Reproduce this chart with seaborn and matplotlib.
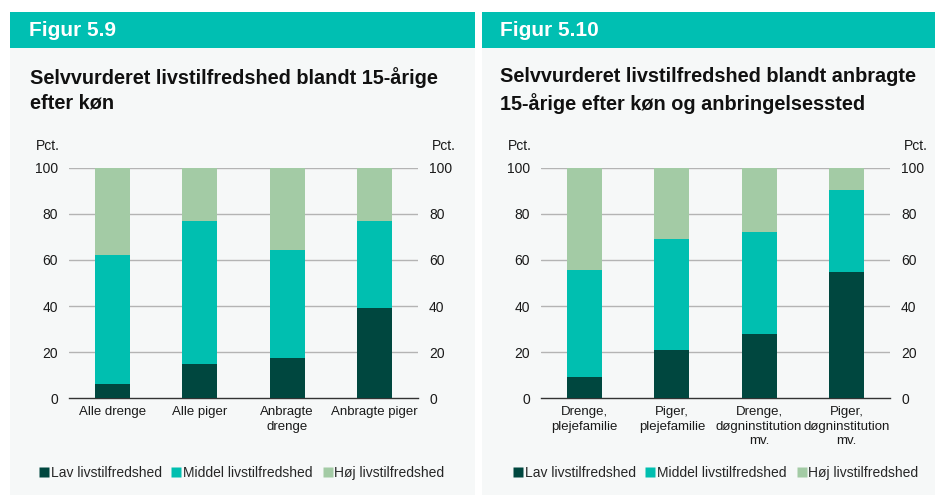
import pandas as pd
import seaborn as sns
import matplotlib.pyplot as plt
from matplotlib.patches import Rectangle
from matplotlib.lines import Line2D

# Data (pct.)
cats_left = ["Alle drenge", "Alle piger", "Anbragte\ndrenge", "Anbragte piger"]
lav_left = [6, 15, 17.5, 39]
middel_left = [56, 62, 47, 37.8]
hoj_left = [38, 23, 35.5, 23.2]

cats_right = ["Drenge,\nplejefamilie", "Piger,\nplejefamilie",
              "Drenge,\ndøgninstitution\nmv.", "Piger,\ndøgninstitution\nmv."]
lav_right = [9.3, 20.7, 28, 55]
middel_right = [46.5, 48.6, 44, 35.6]
hoj_right = [44.2, 30.7, 28, 9.4]

series = ["Lav livstilfredshed", "Middel livstilfredshed", "Høj livstilfredshed"]
colors = ["#00473f", "#00bfb0", "#a3cba5"]
header_col = "#00bfb2"
panel_bg = "#f6f8f8"

sns.set_style("white")
plt.rcParams["font.family"] = ["Liberation Sans", "DejaVu Sans"]

fig = plt.figure(figsize=(9.35, 4.95), dpi=100)
W, H = 935, 495


def px_rect(x0, y0, x1, y1, color):
    fig.add_artist(Rectangle((x0 / W, 1 - y1 / H), (x1 - x0) / W, (y1 - y0) / H,
                             transform=fig.transFigure, color=color, lw=0, zorder=0))


def draw_panel(ax, cats, lav, middel, hoj):
    df = pd.DataFrame({"cat": cats, "lav": lav, "middel": middel, "hoj": hoj})
    df["c_mid"] = df["lav"] + df["middel"]
    df["c_top"] = df["c_mid"] + df["hoj"]
    ax.set_facecolor(panel_bg)
    for col, c in zip(["c_top", "c_mid", "lav"], colors[::-1]):
        sns.barplot(data=df, x="cat", y=col, color=c, width=0.4, ax=ax,
                    saturation=1, edgecolor="none", linewidth=0, zorder=3)
    ax.set_ylim(0, 100)
    ax.set_xlim(-0.5, len(cats) - 0.5)
    ax.set_yticks(range(0, 101, 20))
    ax.set_xlabel("")
    ax.set_ylabel("")
    for y in range(20, 101, 20):
        ax.axhline(y, color="#b4b4b4", lw=1, zorder=1)
    for s in ["top", "left", "right"]:
        ax.spines[s].set_visible(False)
    ax.spines["bottom"].set_color("#333333")
    ax.spines["bottom"].set_linewidth(1)
    ax.tick_params(axis="y", length=0, labelsize=10, pad=8,
                   labelright=True, labelcolor="#1a1a1a")
    ax.tick_params(axis="x", length=0, labelsize=9.5, pad=6, labelcolor="#1a1a1a")
    for lbl in ax.get_xticklabels():
        lbl.set_linespacing(1.25)
    ax.set_xticks([i - 0.5 for i in range(len(cats) + 1)], minor=True)
    ax.tick_params(axis="x", which="minor", length=4, color="#333333", direction="out")
    ax.text(-0.06, 1.065, "Pct.", transform=ax.transAxes, fontsize=10,
            ha="center", va="bottom", color="#1a1a1a")
    ax.text(1.075, 1.065, "Pct.", transform=ax.transAxes, fontsize=10,
            ha="center", va="bottom", color="#1a1a1a")


# panel backgrounds and headers
px_rect(10, 12, 475, 495, panel_bg)
px_rect(482, 12, 935, 495, panel_bg)
px_rect(10, 12, 475, 48, header_col)
px_rect(482, 12, 935, 48, header_col)

fig.text(29 / W, 1 - 30 / H, "Figur 5.9", color="white", fontsize=15,
         fontweight="bold", va="center")
fig.text(500 / W, 1 - 30 / H, "Figur 5.10", color="white", fontsize=15,
         fontweight="bold", va="center")
fig.text(30 / W, 1 - 67 / H, "Selvvurderet livstilfredshed blandt 15-årige\nefter køn",
         fontsize=14.3, fontweight="bold", va="top", linespacing=1.4, color="#111111")
fig.text(500 / W, 1 - 67 / H,
         "Selvvurderet livstilfredshed blandt anbragte\n15-årige efter køn og anbringelsessted",
         fontsize=14.3, fontweight="bold", va="top", linespacing=1.4, color="#111111")

ax1 = fig.add_axes([69 / W, 1 - 398 / H, 349 / W, 230 / H])
ax2 = fig.add_axes([541 / W, 1 - 398 / H, 349 / W, 230 / H])
draw_panel(ax1, cats_left, lav_left, middel_left, hoj_left)
draw_panel(ax2, cats_right, lav_right, middel_right, hoj_right)

handles = [Line2D([], [], marker="s", linestyle="none", markersize=7,
                  markerfacecolor=c, markeredgecolor="none") for c in colors]
for x0 in [37, 511]:
    fig.legend(handles, series, loc="center left", bbox_to_anchor=(x0 / W, 1 - 473 / H),
               ncol=3, frameon=False, fontsize=10, handletextpad=0.0,
               columnspacing=0.55, handlelength=1.0, borderaxespad=0, borderpad=0)

fig.savefig("out.png", dpi=100, facecolor="white")
